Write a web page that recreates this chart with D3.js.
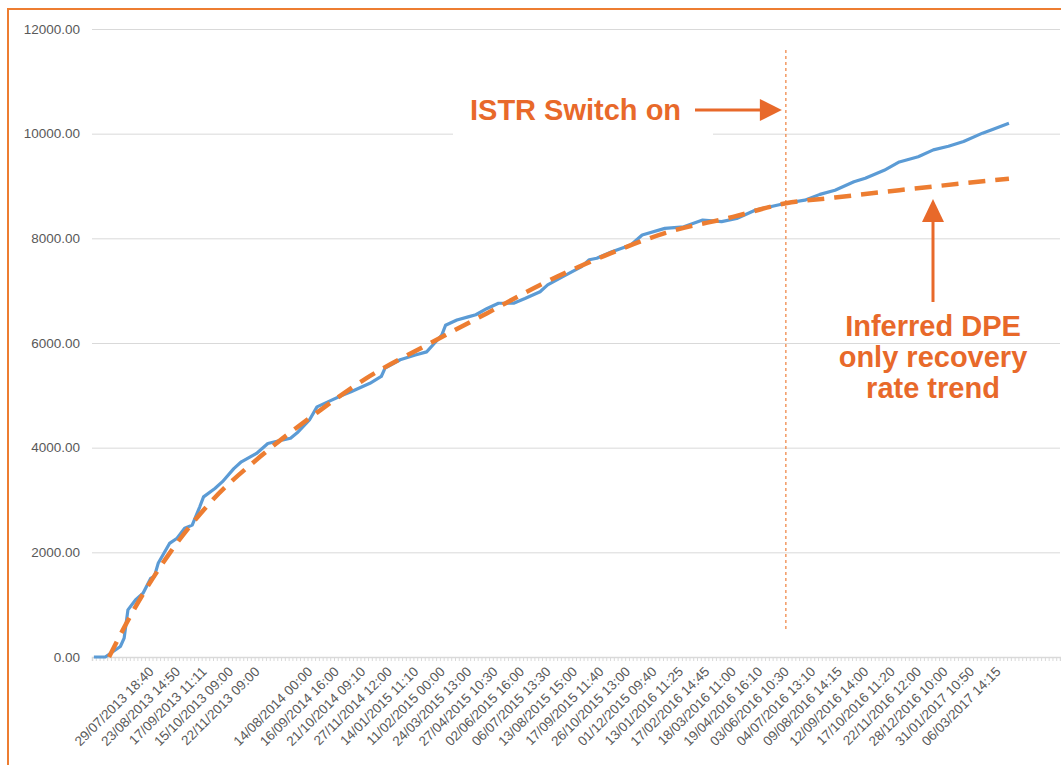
<!DOCTYPE html>
<html>
<head>
<meta charset="utf-8">
<script src="https://cdn.jsdelivr.net/npm/d3@7"></script>
<style>
  body { margin: 0; background: #ffffff; }
  .axis text { font-family: "Liberation Sans", Arial, sans-serif; fill: #595959; }
  .annot { font-family: "Liberation Sans", Arial, sans-serif; font-weight: bold; fill: #e8692a; }
</style>
</head>
<body>
<div id="chart"></div>
<script>
// y axis ticks
var yTicks = [0, 2000, 4000, 6000, 8000, 10000, 12000];

// category labels shown on the x axis (every 7th category, one blank slot)
var tickLabels = [
  "29/07/2013 18:40", "23/08/2013 14:50", "17/09/2013 11:11", "15/10/2013 09:00",
  "22/11/2013 09:00", "", "14/08/2014 00:00", "16/09/2014 16:00", "21/10/2014 09:10",
  "27/11/2014 12:00", "14/01/2015 11:10", "11/02/2015 00:00", "24/03/2015 13:00",
  "27/04/2015 10:30", "02/06/2015 16:00", "06/07/2015 13:30", "13/08/2015 15:00",
  "17/09/2015 11:40", "26/10/2015 13:00", "01/12/2015 09:40", "13/01/2016 11:25",
  "17/02/2016 14:45", "18/03/2016 11:00", "19/04/2016 16:10", "03/06/2016 10:30",
  "04/07/2016 13:10", "09/08/2016 14:15", "12/09/2016 14:00", "17/10/2016 11:20",
  "22/11/2016 12:00", "28/12/2016 10:00", "31/01/2017 10:50", "06/03/2017 14:15"
];
var nCategories = 256;
var firstLabelCat = 15;
var labelStep = 7;

// measured cumulative recovery (category index, value)
var recoveryCat = [0, 3, 7, 8, 9, 11, 13, 15, 16, 17, 20, 22, 24, 26, 28, 29, 32, 34, 37, 39,
  43, 46, 50, 52, 54, 57, 59, 62, 66, 68, 73, 76, 77, 81, 85, 88, 90, 92, 93, 96,
  99, 101, 104, 107, 111, 114, 118, 120, 124, 129, 131, 133, 137, 142, 145, 151, 156, 161, 166, 170,
  175, 183, 188, 192, 196, 201, 204, 209, 213, 218, 222, 226, 230, 235, 238, 242];
var recoveryVal = [0, 0, 200, 360, 900, 1090, 1220, 1500, 1540, 1790, 2170, 2270, 2460, 2520, 2870, 3060, 3220, 3350, 3600, 3730,
  3890, 4080, 4150, 4180, 4300, 4530, 4780, 4880, 5010, 5070, 5230, 5360, 5520, 5680, 5770, 5830, 5990, 6150, 6340, 6440,
  6500, 6540, 6660, 6760, 6760, 6850, 6980, 7110, 7270, 7460, 7590, 7620, 7745, 7873, 8064, 8190, 8220, 8350, 8320, 8380,
  8540, 8670, 8730, 8840, 8920, 9080, 9150, 9300, 9460, 9560, 9690, 9760, 9850, 10010, 10090, 10200];

// inferred DPE only trend (category index, value)
var trendCat = [4, 10, 20, 31, 44, 59, 72, 88, 104, 118, 135, 151, 169, 183, 196, 213, 242];
var trendVal = [0, 830, 1980, 2970, 3830, 4670, 5325, 5960, 6570, 7110, 7665, 8100, 8410, 8670, 8780, 8920, 9140];

// ISTR switch on category
var switchCat = 183;

var svgWidth = 1061;
var svgHeight = 765;

var margin = { top: 29, right: 1, bottom: 108, left: 92 };
var width = svgWidth - margin.left - margin.right;
var height = svgHeight - margin.top - margin.bottom;

var svg = d3.select("#chart")
  .append("svg")
  .attr("width", svgWidth)
  .attr("height", svgHeight);

// orange frame
svg.append("rect")
  .attr("x", 8)
  .attr("y", 9)
  .attr("width", svgWidth + 20)
  .attr("height", svgHeight + 20)
  .attr("fill", "none")
  .attr("stroke", "#ed7d31")
  .attr("stroke-width", 2);

var chartGroup = svg.append("g")
  .attr("transform", `translate(${margin.left}, ${margin.top})`);

var x = d3.scaleLinear()
  .domain([0, nCategories])
  .range([0, 968]);

var y = d3.scaleLinear()
  .domain([0, 12000])
  .range([height, 0]);

// gridlines
chartGroup.append("g")
  .attr("class", "grid")
  .call(d3.axisLeft(y).tickValues(yTicks.slice(1)).tickSize(-width).tickFormat(""))
  .call(g => g.select(".domain").remove())
  .call(g => g.selectAll("line").attr("stroke", "#d9d9d9").attr("stroke-width", 1));

// y axis labels
chartGroup.append("g")
  .attr("class", "axis")
  .call(d3.axisLeft(y).tickValues(yTicks).tickSize(0).tickPadding(12).tickFormat(d3.format(".2f")))
  .call(g => g.select(".domain").remove())
  .call(g => g.selectAll("text").style("font-size", "13.5px"));

// x axis small ticks
chartGroup.append("g")
  .attr("transform", `translate(0, ${height})`)
  .call(d3.axisBottom(x).tickValues(d3.range(0, nCategories + 1)).tickSize(4).tickFormat(""))
  .call(g => g.select(".domain").attr("stroke", "#d9d9d9").attr("stroke-width", 1.5))
  .call(g => g.selectAll("line").attr("stroke", "#d9d9d9"));

// x axis labels
var labelCats = tickLabels.map((d, i) => firstLabelCat + i * labelStep + 0.5);
chartGroup.append("g")
  .attr("class", "axis")
  .attr("transform", `translate(0, ${height})`)
  .call(d3.axisBottom(x).tickValues(labelCats).tickSize(0).tickFormat((d, i) => tickLabels[i]))
  .call(g => g.select(".domain").remove())
  .call(g => g.selectAll("text")
    .style("font-size", "13.5px")
    .attr("text-anchor", "end")
    .attr("dy", "0.35em")
    .attr("transform", "translate(-2, 10) rotate(-45)"));

// switch on marker
chartGroup.append("line")
  .attr("x1", x(switchCat + 0.5))
  .attr("x2", x(switchCat + 0.5))
  .attr("y1", 21)
  .attr("y2", 603)
  .attr("stroke", "#f08a4b")
  .attr("stroke-width", 1.3)
  .attr("stroke-dasharray", "3,3");

// lines
var recoveryLine = d3.line()
  .x((d, i) => x(recoveryCat[i] + 0.5))
  .y(d => y(d));

chartGroup.append("path")
  .datum(recoveryVal)
  .attr("d", recoveryLine)
  .attr("fill", "none")
  .attr("stroke", "#5b9bd5")
  .attr("stroke-width", 3.2)
  .attr("stroke-linejoin", "round");

var trendLine = d3.line()
  .x((d, i) => x(trendCat[i] + 0.5))
  .y(d => y(d))
  .curve(d3.curveMonotoneX);

chartGroup.append("path")
  .datum(trendVal)
  .attr("d", trendLine)
  .attr("fill", "none")
  .attr("stroke", "#ed7d31")
  .attr("stroke-width", 4.5)
  .attr("stroke-dasharray", "17,10");

// annotation: ISTR switch on
var sx = margin.left + x(switchCat + 0.5);
svg.append("rect")
  .attr("x", 453)
  .attr("y", 80)
  .attr("width", 260)
  .attr("height", 58)
  .attr("fill", "#ffffff");

svg.append("text")
  .attr("class", "annot")
  .attr("x", 470)
  .attr("y", 120)
  .style("font-size", "29px")
  .text("ISTR Switch on");

svg.append("line")
  .attr("x1", 695)
  .attr("x2", sx - 22)
  .attr("y1", 110)
  .attr("y2", 110)
  .attr("stroke", "#e8692a")
  .attr("stroke-width", 3);

svg.append("path")
  .attr("d", `M${sx - 4},110 L${sx - 26},99 L${sx - 26},121 Z`)
  .attr("fill", "#e8692a");

// annotation: inferred DPE trend
var ax = 933;
svg.append("line")
  .attr("x1", ax)
  .attr("x2", ax)
  .attr("y1", 302)
  .attr("y2", 218)
  .attr("stroke", "#e8692a")
  .attr("stroke-width", 3);

svg.append("path")
  .attr("d", `M${ax},199 L${ax - 11},222 L${ax + 11},222 Z`)
  .attr("fill", "#e8692a");

var annotLines = ["Inferred DPE", "only recovery", "rate trend"];
svg.append("text")
  .attr("class", "annot")
  .attr("x", ax)
  .attr("y", 336)
  .attr("text-anchor", "middle")
  .style("font-size", "29px")
  .selectAll("tspan")
  .data(annotLines)
  .enter()
  .append("tspan")
  .attr("x", ax)
  .attr("dy", (d, i) => i === 0 ? 0 : 31)
  .text(d => d);
</script>
</body>
</html>
